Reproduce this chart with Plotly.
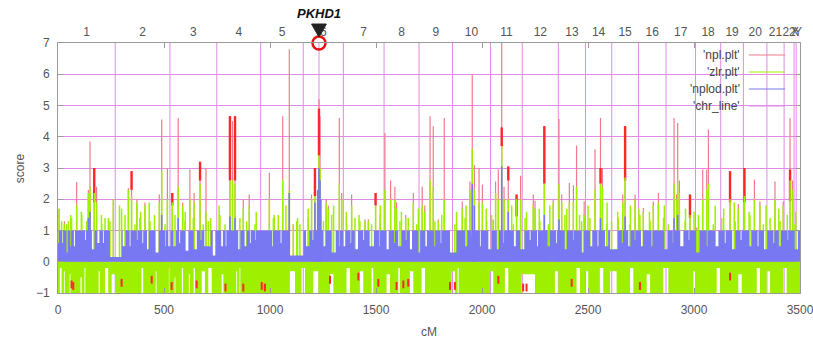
import plotly.graph_objects as go

# ---------------- data ----------------
chr_bounds = [0, 270, 528, 749, 956, 1157, 1346, 1538, 1703, 1861, 2040, 2190, 2360,
              2488, 2612, 2738, 2868, 3007, 3126, 3233, 3344, 3425, 3472, 3482, 3500]
chr_labels = [str(i) for i in range(1, 23)] + ["X", "Y"]

pkhd1_cm = 1231

npl_pos = [5, 30, 88, 143, 151, 171, 182, 238, 261, 332, 347, 372, 410, 478, 489, 516, 539,
           567, 588, 622, 642, 670, 698, 811, 823, 835, 874, 902, 997, 1060, 1091, 1110, 1196,
           1212, 1231, 1236, 1265, 1275, 1327, 1338, 1385, 1448, 1464, 1498, 1542, 1569, 1589,
           1597, 1640, 1676, 1718, 1730, 1755, 1770, 1794, 1822, 1833, 1907, 1943, 1954, 1964,
           1986, 2002, 2053, 2064, 2077, 2093, 2104, 2124, 2163, 2182, 2242, 2250, 2294, 2336,
           2363, 2376, 2412, 2431, 2446, 2482, 2533, 2559, 2568, 2664, 2675, 2722, 2761, 2808,
           2832, 2906, 2918, 2923, 2931, 2981, 3013, 3041, 3060, 3068, 3170, 3209, 3238, 3285,
           3311, 3382, 3421, 3453, 3465]
npl_val = [1.7, 1.3, 2.55, 2.3, 3.85, 3.0, 2.4, 1.4, 2.0, 2.35, 2.9, 2.0, 1.9, 2.15, 4.55, 3.0,
           2.2, 4.6, 1.9, 2.95, 2.2, 3.2, 3.0, 4.65, 4.5, 4.65, 2.0, 2.15, 2.85, 4.66, 6.8, 1.2,
           2.15, 3.0, 5.2, 4.66, 2.0, 1.8, 4.6, 2.2, 2.15, 1.35, 1.35, 2.2, 4.12, 2.6, 2.4, 1.9,
           1.5, 2.2, 2.4, 1.8, 4.66, 4.34, 1.35, 4.6, 0.9, 1.93, 2.57, 6.0, 3.1, 3.0, 2.47, 1.35,
           2.57, 2.95, 7.0, 2.4, 3.05, 2.15, 2.75, 2.15, 1.95, 4.34, 1.99, 4.57, 2.15, 2.52, 2.45,
           3.72, 1.93, 3.6, 4.6, 3.0, 2.15, 4.34, 2.15, 1.72, 1.93, 2.2, 4.6, 2.15, 4.44, 2.6,
           2.15, 1.1, 2.95, 2.95, 4.23, 2.9, 1.85, 3.0, 2.63, 1.93, 2.57, 1.93, 4.6, 2.6]
zlr_val = [1.7, 1.2, 1.8, 2.2, 2.4, 2.2, 1.9, 1.4, 2.0, 2.3, 2.1, 1.9, 1.8, 1.9, 2.9, 2.0,
           1.9, 2.4, 1.8, 2.0, 1.9, 2.5, 1.6, 2.6, 2.6, 2.5, 1.7, 1.8, 2.0, 2.6, 2.3, 1.2,
           2.0, 2.1, 3.4, 3.0, 1.9, 1.7, 2.5, 2.0, 1.8, 1.3, 1.3, 1.8, 2.3, 2.0, 2.0, 1.7,
           1.4, 1.9, 1.8, 1.6, 2.6, 2.4, 1.3, 2.0, 0.9, 1.7, 2.3, 3.6, 2.3, 1.9, 1.9, 1.3,
           2.2, 2.0, 3.7, 2.0, 2.0, 2.0, 2.0, 1.8, 1.7, 2.5, 1.9, 2.5, 1.9, 1.9, 1.9,
           2.4, 1.5, 2.3, 2.5, 2.4, 1.9, 2.7, 2.0, 1.6, 1.8, 1.9, 2.5, 2.0, 2.6, 2.2,
           1.5, 1.0, 2.0, 2.3, 2.5, 2.0, 1.7, 2.1, 2.0, 1.8, 2.0, 1.8, 2.6, 2.3]
zlr_extra_pos = [49, 60, 110, 205, 290, 300, 390, 430, 455, 600, 720, 760, 935, 1020, 1075,
                 1130, 1180, 1300, 1360, 1420, 1520, 1620, 1700, 1880, 1925, 2020, 2140, 2210,
                 2270, 2320, 2400, 2460, 2500, 2590, 2640, 2700, 2740, 2790, 2860, 2960, 3000,
                 3100, 3140, 3190, 3260, 3340, 3400, 3440, 3480]
zlr_extra_val = [1.3, 1.5, 1.6, 1.5, 1.8, 1.7, 1.6, 1.9, 1.5, 1.6, 1.4, 1.8, 1.6, 1.5, 1.8,
                 1.4, 1.7, 1.8, 1.6, 1.5, 1.8, 1.6, 1.7, 1.6, 1.8, 1.7, 1.8, 1.6,
                 1.7, 1.8, 1.7, 1.5, 1.8, 1.9, 1.6, 1.8, 1.7, 1.6, 1.8, 1.7, 1.6,
                 1.8, 1.7, 1.9, 1.6, 1.8, 1.7, 1.5, 1.6]
# short zlr spikes just above the dense band
zlr_small_pos = [17, 41, 64, 112, 135, 206, 222, 245, 316, 363, 386, 434, 505, 552, 599, 638,
                 685, 709, 764, 788, 858, 890, 929, 1016, 1039, 1126, 1141, 1181, 1252, 1291,
                 1362, 1401, 1424, 1479, 1519, 1613, 1652, 1692, 1778, 1810, 1872, 1920, 2022,
                 2045, 2148, 2203, 2273, 2313, 2391, 2470, 2509, 2588, 2611, 2643, 2698, 2745,
                 2793, 2856, 2879, 2958, 3021, 3091, 3131, 3194, 3264, 3327, 3359, 3406, 3476]
zlr_small_val = [1.3, 1.2, 1.4, 1.5, 1.3, 1.2, 1.4, 1.3, 1.5, 1.2, 1.4, 1.3, 1.2, 1.5, 1.3, 1.4,
                 1.2, 1.3, 1.5, 1.2, 1.4, 1.3, 1.2, 1.4, 1.5, 1.3, 1.2, 1.4, 1.3, 1.5,
                 1.2, 1.4, 1.3, 1.2, 1.5, 1.3, 1.4, 1.2, 1.3, 1.5, 1.2, 1.4, 1.3,
                 1.5, 1.2, 1.4, 1.3, 1.2, 1.5, 1.3, 1.4, 1.2, 1.3, 1.4, 1.2, 1.5,
                 1.3, 1.4, 1.2, 1.3, 1.5, 1.2, 1.4, 1.3, 1.5, 1.2, 1.4, 1.3, 1.2]
nplod_pos = [143, 151, 489, 567, 811, 835, 1091, 1212, 1225, 1231, 1236, 1240, 1954, 1964,
             2093, 2124, 2294, 2363, 2559, 2675, 2906, 2923]
nplod_val = [1.4, 1.6, 1.5, 1.4, 1.45, 1.4, 2.2, 1.9, 2.3, 3.0, 2.6, 2.0, 2.5, 1.8,
             3.05, 1.6, 1.5, 1.35, 1.4, 1.45, 1.4, 1.5]
# thick red stretches of the npl curve: position, low, high
npl_block_pos = [171, 347, 539, 670, 811, 835, 1212, 1231, 1498, 2093, 2124, 2163, 2294,
                 2559, 2675, 2981, 3170, 3238, 3453]
npl_block_lo = [1.9, 2.3, 1.8, 2.6, 2.6, 2.6, 2.1, 3.4, 1.8, 3.7, 2.6, 1.45, 2.5,
                2.5, 2.6, 1.4, 1.9, 1.9, 1.93]
npl_block_hi = [3.0, 2.9, 2.2, 3.2, 4.66, 4.66, 3.0, 4.9, 2.2, 4.3, 3.05, 2.15, 4.34,
                3.0, 4.34, 2.15, 2.9, 3.0, 2.95]
# red npl dips inside the lower band
npl_neg_pos = [64, 72, 300, 442, 536, 654, 790, 874, 961, 976, 1283, 1417, 1511, 1597,
               1629, 1652, 1849, 1872, 2077, 2194, 2210, 2423, 2745, 3170]
npl_neg_val = [-0.85, -0.9, -0.8, -0.7, -0.9, -0.85, -0.95, -0.95, -0.9, -0.95, -0.7, -0.6,
               -0.8, -0.9, -0.85, -0.8, -0.9, -0.9, -0.7, -0.95, -0.95, -0.8, -0.9, -0.6]
# gaps in the dense nplod band (0..1): start, end, level reached
nplod_gap_start = [0, 40, 75, 160, 185, 245, 305, 420, 460, 520, 545, 600, 640, 690, 730,
                   770, 850, 880, 1094, 1170, 1250, 1290, 1345, 1400, 1470, 1550, 1605,
                   1660, 1700, 1731, 1849, 1920, 2030, 2070, 2150, 2180, 2310, 2390, 2470,
                   2510, 2580, 2604, 2690, 2750, 2860, 2935, 3010, 3100, 3180, 3260, 3330,
                   3400, 3475,
                   20, 58, 128, 212, 338, 372, 398, 505, 572, 672, 790, 905, 930, 1010,
                   1050, 1200, 1325, 1380, 1440, 1515, 1585, 1640, 1775, 1805, 1950, 1990,
                   2100, 2225, 2260, 2350, 2430, 2545, 2660, 2720, 2800, 2900, 2975, 3060,
                   3145, 3220, 3300, 3375, 3440]
nplod_gap_end = [4, 45, 80, 172, 195, 300, 318, 428, 475, 530, 556, 615, 655, 720, 742,
                 778, 860, 890, 1157, 1185, 1262, 1310, 1355, 1415, 1490, 1560, 1620,
                 1670, 1708, 1740, 1880, 1930, 2045, 2080, 2160, 2200, 2320, 2400, 2480,
                 2520, 2595, 2640, 2700, 2760, 2875, 2950, 3025, 3115, 3195, 3270, 3345,
                 3410, 3490,
                 24, 62, 132, 216, 342, 376, 402, 509, 576, 676, 794, 909, 934, 1014,
                 1054, 1204, 1329, 1384, 1444, 1519, 1589, 1644, 1779, 1809, 1953, 1994,
                 2104, 2229, 2264, 2354, 2434, 2549, 2664, 2724, 2804, 2904, 2979, 3064,
                 3149, 3224, 3304, 3379, 3444]
nplod_gap_level = [0.6, 0.3, 0.5, 0.4, 0.6, 0.15, 0.5, 0.4, 0.3, 0.5, 0.5, 0.35, 0.4, 0.5,
                   0.2, 0.5, 0.4, 0.5, 0.2, 0.5, 0.5, 0.3, 0.5, 0.4, 0.5, 0.4, 0.5,
                   0.4, 0.3, 0.5, 0.3, 0.5, 0.4, 0.4, 0.5, 0.4, 0.5, 0.4, 0.3,
                   0.5, 0.5, 0.4, 0.5, 0.5, 0.4, 0.5, 0.3, 0.5, 0.4, 0.5, 0.4,
                   0.5, 0.4,
                   0.6, 0.5, 0.7, 0.6, 0.5, 0.7, 0.6, 0.5, 0.6, 0.7, 0.5, 0.6, 0.7, 0.5,
                   0.6, 0.7, 0.5, 0.6, 0.7, 0.5, 0.6, 0.7, 0.5, 0.6, 0.7, 0.5,
                   0.6, 0.7, 0.5, 0.6, 0.7, 0.5, 0.6, 0.7, 0.5, 0.6, 0.7, 0.5,
                   0.6, 0.7, 0.5, 0.6, 0.7]
# gaps in the dense zlr band (0..-1)
zlr_gap_start = [9, 28, 55, 106, 125, 192, 222, 253, 394, 461, 523, 550, 584, 617, 640, 678,
                 709, 772, 841, 856, 1094, 1149, 1204, 1283, 1361, 1424, 1479, 1550, 1605,
                 1660, 1715, 1857, 1885, 2038, 2108, 2187, 2344, 2446, 2486, 2556, 2604,
                 2698, 2777, 2855, 2997, 3107, 3209, 3296, 3343, 3421]
zlr_gap_end = [17, 32, 59, 112, 129, 198, 237, 269, 402, 465, 528, 554, 590, 622, 646, 693,
               725, 780, 845, 860, 1118, 1165, 1228, 1299, 1377, 1440, 1487, 1566, 1613,
               1676, 1731, 1872, 1890, 2053, 2124, 2250, 2360, 2462, 2501, 2572, 2635,
               2714, 2793, 2879, 3005, 3123, 3225, 3311, 3359, 3437]
zlr_gap_level = [-0.2, -0.3, -0.4, -0.5, -0.2, -0.3, -0.2, -0.4, -0.2, -0.3, -0.2, -0.5,
                 -0.2, -0.4, -0.2, -0.3, -0.2, -0.4, -0.3, -0.2, -0.3, -0.2, -0.3, -0.4,
                 -0.2, -0.3, -0.2, -0.4, -0.2, -0.3, -0.2, -0.3, -0.2, -0.3, -0.2, -0.4,
                 -0.3, -0.2, -0.3, -0.2, -0.3, -0.2, -0.4, -0.2, -0.3, -0.2, -0.4, -0.2,
                 -0.3, -0.2]

x_ticks = [0, 500, 1000, 1500, 2000, 2500, 3000, 3500]
y_ticks = [-1, 0, 1, 2, 3, 4, 5, 6, 7]

# ---------------- styling ----------------
RED_THIN = "#f07a8c"
RED = "#ff2626"
GREEN = "#9ff000"
BLUE = "#7878f2"
MAGENTA = "#e08ce6"
FRAME = "#9a9a9a"
TXT = "#555555"
FONT = "Liberation Sans, Arial, sans-serif"
X_MAX = chr_bounds[-1]


def spikes(pos, val, base=0.0):
    xs, ys = [], []
    for p, v in zip(pos, val):
        xs += [p, p, None]
        ys += [base, v, None]
    return xs, ys


def segs(pos, lo, hi):
    xs, ys = [], []
    for p, a, b in zip(pos, lo, hi):
        xs += [p, p, None]
        ys += [a, b, None]
    return xs, ys


def band(starts, ends, levels, full):
    xs, ys = [0], [full]
    for s, e, l in sorted(zip(starts, ends, levels)):
        xs += [s, s, e, e]
        ys += [full, l, l, full]
    xs.append(X_MAX)
    ys.append(full)
    return xs, ys


fig = go.Figure()

# npl (red) spikes
x, y = spikes(npl_pos, npl_val)
fig.add_trace(go.Scatter(x=x, y=y, mode="lines", line=dict(color=RED_THIN, width=1.2),
                         hoverinfo="skip", showlegend=False))
x, y = segs(npl_block_pos, npl_block_lo, npl_block_hi)
fig.add_trace(go.Scatter(x=x, y=y, mode="lines", line=dict(color=RED, width=2.4),
                         hoverinfo="skip", showlegend=False))

# zlr (green) band and spikes
x, y = band(zlr_gap_start, zlr_gap_end, zlr_gap_level, -1.0)
fig.add_trace(go.Scatter(x=x, y=y, mode="lines", line=dict(width=0, color=GREEN),
                         fill="tozeroy", fillcolor=GREEN, hoverinfo="skip", showlegend=False))
x, y = spikes(zlr_extra_pos + npl_pos + zlr_small_pos, zlr_extra_val + zlr_val + zlr_small_val)
fig.add_trace(go.Scatter(x=x, y=y, mode="lines", line=dict(color=GREEN, width=1.5),
                         hoverinfo="skip", showlegend=False))

# nplod (blue) band and spikes
x, y = band(nplod_gap_start, nplod_gap_end, nplod_gap_level, 1.0)
fig.add_trace(go.Scatter(x=x, y=y, mode="lines", line=dict(width=0, color=BLUE),
                         fill="tozeroy", fillcolor=BLUE, hoverinfo="skip", showlegend=False))
x, y = spikes(nplod_pos, nplod_val)
fig.add_trace(go.Scatter(x=x, y=y, mode="lines", line=dict(color=BLUE, width=1.6),
                         hoverinfo="skip", showlegend=False))

# red dips in the lower band
x, y = segs(npl_neg_pos, [v + 0.25 for v in npl_neg_val], npl_neg_val)
fig.add_trace(go.Scatter(x=x, y=y, mode="lines", line=dict(color=RED, width=2.0),
                         hoverinfo="skip", showlegend=False))

# gene marker circle on the top frame
fig.add_trace(go.Scatter(x=[pkhd1_cm], y=[7], mode="markers", cliponaxis=False,
                         marker=dict(symbol="circle-open", size=13, color="#ee1111",
                                     line=dict(width=2.5, color="#ee1111")),
                         hoverinfo="skip", showlegend=False))

# dummy trace for top chromosome axis
mids = [(a + b) / 2 for a, b in zip(chr_bounds[:-1], chr_bounds[1:])]
fig.add_trace(go.Scatter(x=[0], y=[None], xaxis="x2", mode="markers", showlegend=False,
                         hoverinfo="skip"))

shapes = []
for b in chr_bounds[1:-1] + [pkhd1_cm]:
    shapes.append(dict(type="line", xref="x", yref="y", x0=b, x1=b, y0=-1, y1=7,
                       line=dict(color=MAGENTA, width=1), layer="below"))
# triangle marker above gene
half = 35
shapes.append(dict(type="path", xref="x", yref="paper",
                   path=f"M {pkhd1_cm - half},1.076 L {pkhd1_cm + half},1.076 L {pkhd1_cm},1.024 Z",
                   fillcolor="#222222", line=dict(color="#222222", width=1)))

# manual gnuplot-style key
key_names = ["'npl.plt'", "'zlr.plt'", "'nplod.plt'", "'chr_line'"]
key_colors = [RED_THIN, GREEN, BLUE, MAGENTA]
key_y = [0.952, 0.884, 0.816, 0.748]
annotations = []
for name, col, ky in zip(key_names, key_colors, key_y):
    annotations.append(dict(x=0.922, y=ky, xref="paper", yref="paper", text=name,
                            showarrow=False, xanchor="right", yanchor="middle",
                            font=dict(family=FONT, size=12, color="#444444")))
    shapes.append(dict(type="line", xref="paper", yref="paper", x0=0.931, x1=0.980,
                       y0=ky, y1=ky, line=dict(color=col, width=1.2)))

annotations.append(dict(x=pkhd1_cm, y=1.078, xref="x", yref="paper", text="<b><i>PKHD1</i></b>",
                        showarrow=False, xanchor="center", yanchor="bottom",
                        font=dict(family=FONT, size=13, color="#111111")))
annotations.append(dict(x=-0.051, y=0.5, xref="paper", yref="paper", text="score",
                        textangle=-90, showarrow=False, xanchor="center", yanchor="middle",
                        font=dict(family=FONT, size=12, color=TXT)))
annotations.append(dict(x=0.5, y=-0.12, xref="paper", yref="paper", text="cM",
                        showarrow=False, xanchor="center", yanchor="top",
                        font=dict(family=FONT, size=12, color=TXT)))

fig.update_layout(
    width=813, height=343,
    margin=dict(l=58, r=13, t=43, b=50, autoexpand=False),
    paper_bgcolor="white", plot_bgcolor="white",
    showlegend=False,
    shapes=shapes, annotations=annotations,
    xaxis=dict(range=[0, X_MAX], tickvals=x_ticks, ticktext=[str(v) for v in x_ticks],
               ticks="inside", ticklen=5, tickcolor=FRAME, showline=True, linecolor=FRAME,
               linewidth=1, mirror="ticks", showgrid=False, zeroline=False,
               ticklabelstandoff=6, ticklabeloverflow="allow", automargin=False,
               tickfont=dict(family=FONT, size=12, color=TXT), tickangle=0),
    xaxis2=dict(range=[0, X_MAX], overlaying="x", side="top", tickvals=mids,
                ticktext=chr_labels, ticks="", showline=False, showgrid=False,
                zeroline=False, tickangle=0, ticklabelstandoff=4,
                ticklabeloverflow="allow", automargin=False,
                tickfont=dict(family=FONT, size=12, color=TXT)),
    yaxis=dict(range=[-1, 7], tickvals=y_ticks, ticks="inside", ticklen=5, tickcolor=FRAME,
               showline=True, linecolor=FRAME, linewidth=1, mirror="ticks",
               showgrid=True, gridcolor=MAGENTA, gridwidth=1, zeroline=False,
               ticklabelstandoff=5, automargin=False,
               tickfont=dict(family=FONT, size=12, color=TXT)),
)

fig.write_html("out.html", config={"displayModeBar": False},
               post_script="document.body.style.margin='0';document.body.style.padding='0';")
